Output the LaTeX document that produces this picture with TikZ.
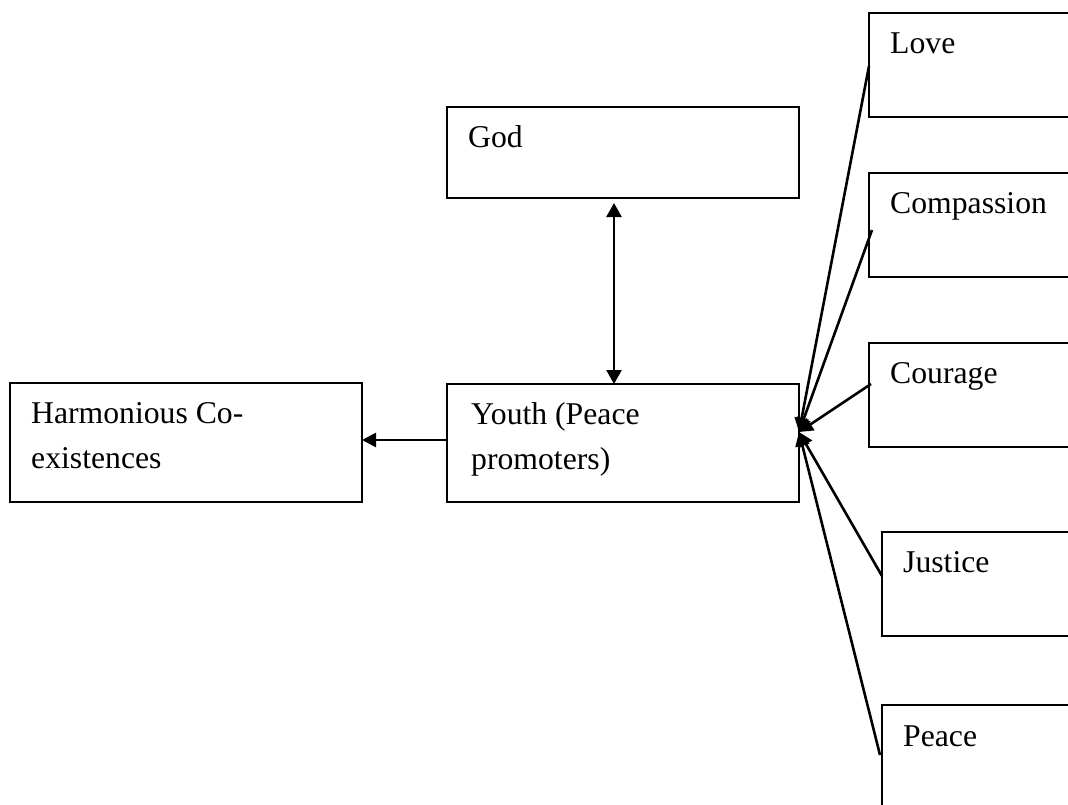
\documentclass[tikz,border=0pt]{standalone}
\usepackage{fontspec}
\setmainfont{Liberation Serif}
\usetikzlibrary{arrows.meta}
\begin{document}
\begin{tikzpicture}[x=1pt,y=-1pt,
  box/.style={draw=black,line width=2pt,fill=white,anchor=north west,inner sep=0pt,outer sep=0pt},
  lbl/.style={anchor=base west,inner sep=0pt,align=left,font=\fontsize{31.7}{45.5}\selectfont},
  link/.style={line width=2.6pt,-{Triangle[length=14pt,width=14pt]}},
  both/.style={line width=2.6pt,{Triangle[length=14pt,width=15pt]}-{Triangle[length=14pt,width=15pt]}}]
  \useasboundingbox (0,0) rectangle (1068,804);
  \fill[white] (0,0) rectangle (1068,804);
  \clip (0,0) rectangle (1068,804);

  % main boxes
  \node[box,minimum width=352pt,minimum height=91pt]  (god)   at (447,107) {};
  \node[box,minimum width=352pt,minimum height=118pt] (youth) at (447,384) {};
  \node[box,minimum width=352pt,minimum height=119pt] (harm)  at (10,383)  {};

  % value boxes on the right (run past the right edge)
  \node[box,minimum width=220pt,minimum height=104pt] (love)    at (869,13)  {};
  \node[box,minimum width=220pt,minimum height=104pt] (compass) at (869,173) {};
  \node[box,minimum width=220pt,minimum height=104pt] (courage) at (869,343) {};
  \node[box,minimum width=210pt,minimum height=104pt] (justice) at (882,532) {};
  \node[box,minimum width=210pt,minimum height=120pt] (peace)   at (882,705) {};

  % texts
  \node[lbl] (tgod)   at ([xshift=21pt,yshift=-40pt]god.north west)   {God};
  \node[lbl,anchor=north west] (tyouth) at ([xshift=24pt,yshift=-18pt]youth.north west) {Youth (Peace\\promoters)};
  \node[lbl,anchor=north west] (tharm)  at ([xshift=21pt,yshift=-19pt]harm.north west)  {Harmonious Co-\\existences};
  \node[lbl] (tlove)    at ([xshift=21pt,yshift=-40pt]love.north west)    {Love};
  \node[lbl] (tcompass) at ([xshift=21pt,yshift=-40pt]compass.north west) {Compassion};
  \node[lbl] (tcourage) at ([xshift=21pt,yshift=-40pt]courage.north west) {Courage};
  \node[lbl] (tjustice) at ([xshift=21pt,yshift=-40pt]justice.north west) {Justice};
  \node[lbl] (tpeace)   at ([xshift=21pt,yshift=-41pt]peace.north west)   {Peace};

  % connectors
  \coordinate (hub) at ([yshift=11pt]youth.east);
  \draw[both] ([xshift=167pt,yshift=-5pt]god.south west) -- ([xshift=167pt]youth.north west);
  \draw[link] ([yshift=-56pt]youth.north west) -- ([yshift=-57pt]harm.north east);
  \draw[link] ([yshift=-53pt]love.north west)               -- (hub);
  \draw[link] ([xshift=3pt,yshift=-57pt]compass.north west) -- (hub);
  \draw[link] ([xshift=2pt,yshift=-41pt]courage.north west) -- (hub);
  \draw[link] ([yshift=-44pt]justice.north west)            -- (hub);
  \draw[link] ([xshift=-2pt,yshift=-50pt]peace.north west)  -- (hub);
\end{tikzpicture}
\end{document}
